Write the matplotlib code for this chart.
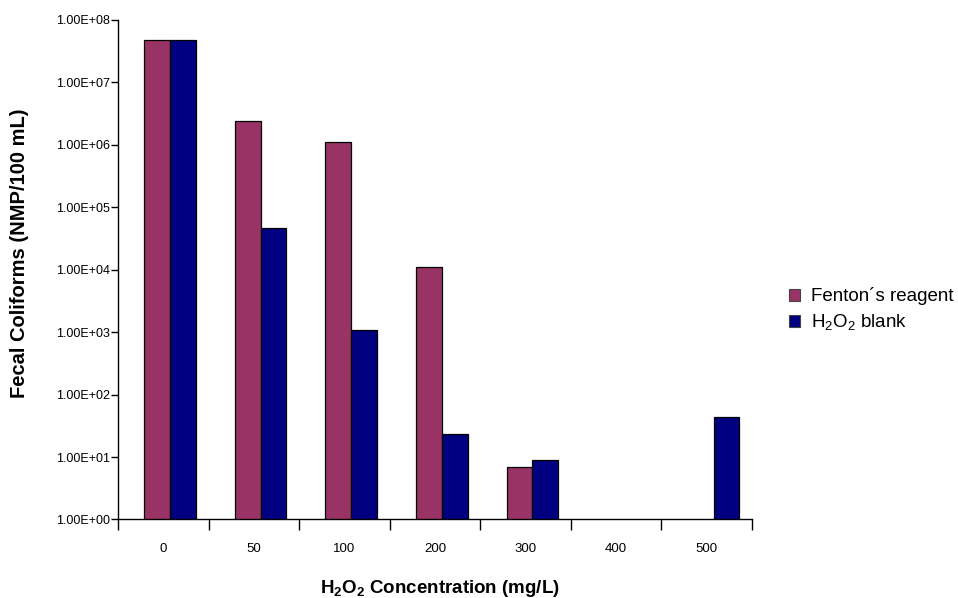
import numpy as np
import matplotlib
matplotlib.use("Agg")
import matplotlib.pyplot as plt
from matplotlib.patches import Patch
from matplotlib.ticker import FixedLocator, NullFormatter, FixedFormatter

plt.rcParams['font.family'] = ['Liberation Sans', 'DejaVu Sans']
plt.rcParams['mathtext.fontset'] = 'custom'
plt.rcParams['mathtext.rm'] = 'Liberation Sans'
plt.rcParams['mathtext.it'] = 'Liberation Sans:italic'
plt.rcParams['mathtext.bf'] = 'Liberation Sans:bold'

# H2O2 dose and fecal coliform counts (NMP/100 mL); nan = no survivors
concentrations = ["0", "50", "100", "200", "300", "400", "500"]
fenton = np.array([4.7e7, 2.4e6, 1.1e6, 1.1e4, 7.0, np.nan, np.nan])
h2o2_blank = np.array([4.7e7, 4.6e4, 1.1e3, 23.5, 9.1, np.nan, 43.0])

fenton_color = "#993366"
blank_color = "#000080"

fig = plt.figure(figsize=(9.58, 5.98), dpi=100)
ax = fig.add_axes([0.1232, 0.1313, 0.6618, 0.8353])

x = np.arange(len(concentrations))
width = 0.285
shift = 0.075

mask_f = ~np.isnan(fenton)
mask_b = ~np.isnan(h2o2_blank)
ax.bar(x[mask_f] + shift - width / 2, fenton[mask_f], width=width,
       color=fenton_color, edgecolor="black", linewidth=0.9)
ax.bar(x[mask_b] + shift + width / 2, h2o2_blank[mask_b], width=width,
       color=blank_color, edgecolor="black", linewidth=0.9)

ax.set_yscale("log")
ax.set_ylim(1, 1e8)
ax.set_xlim(-0.5, len(concentrations) - 0.5)

yticks = [10.0 ** k for k in range(0, 9)]
ax.yaxis.set_major_locator(FixedLocator(yticks))
ax.yaxis.set_major_formatter(FixedFormatter([f"1.00E+{k:02d}" for k in range(0, 9)]))
ax.yaxis.set_minor_locator(FixedLocator([]))
ax.tick_params(axis="y", which="major", direction="out", length=5, width=1,
               labelsize=9, pad=0.5, colors="black")

ax.xaxis.set_major_locator(FixedLocator(np.arange(-0.5, len(concentrations), 1.0)))
ax.xaxis.set_major_formatter(NullFormatter())
ax.xaxis.set_minor_locator(FixedLocator(x))
ax.xaxis.set_minor_formatter(FixedFormatter(concentrations))
ax.tick_params(axis="x", which="major", direction="out", length=8, width=1)
ax.tick_params(axis="x", which="minor", length=0, labelsize=9.5, pad=17)

for side in ("top", "right"):
    ax.spines[side].set_visible(False)
for side in ("left", "bottom"):
    ax.spines[side].set_linewidth(1)
    ax.spines[side].set_color("black")

ax.set_ylabel("Fecal Coliforms (NMP/100 mL)", fontsize=14.5, fontweight="bold",
              va="center")
ax.yaxis.set_label_coords(-0.156, 0.532)
ax.set_xlabel(r"H$_\mathbf{2}$O$_\mathbf{2}$ Concentration (mg/L)",
              fontsize=13.5, fontweight="bold", va="center")
ax.xaxis.set_label_coords(0.5085, -0.139)

handles = [Patch(facecolor=fenton_color, edgecolor="#444444", linewidth=0.8),
           Patch(facecolor=blank_color, edgecolor="#444444", linewidth=0.8)]
fig.legend(handles, ["Fenton´s reagent", r"H$_2$O$_2$ blank"],
           loc="center left", bbox_to_anchor=(0.8155, 0.482), frameon=False,
           fontsize=13.5, handlelength=0.62, handleheight=0.62,
           handletextpad=0.55, labelspacing=0.38, borderaxespad=0)

fig.savefig("out.png", dpi=100)
